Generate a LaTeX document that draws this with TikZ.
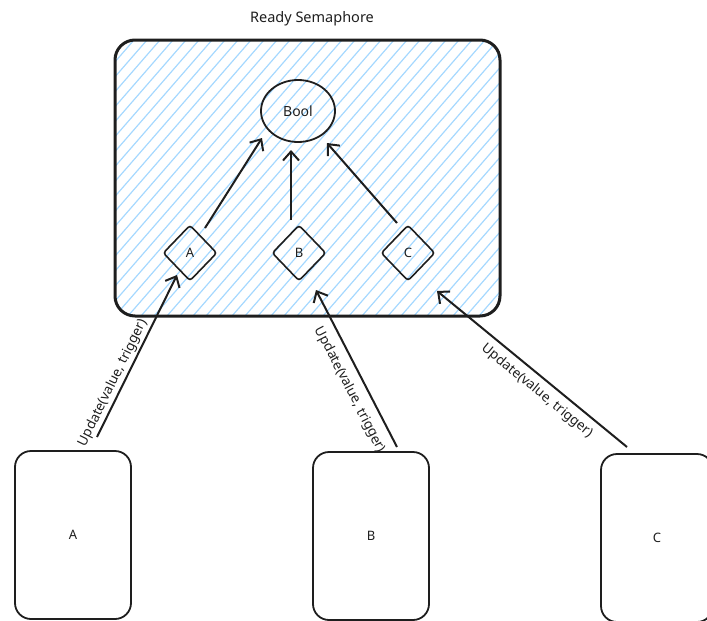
\documentclass[tikz,border=0pt]{standalone}
\usepackage{fontspec}
\setmainfont{Noto Sans}
\usetikzlibrary{shapes.geometric,arrows.meta,calc}
\definecolor{hatchblue}{HTML}{A5D8FF}
\definecolor{ink}{HTML}{1E1E1E}
\begin{document}
\begin{tikzpicture}[x=1pt,y=-1pt,
  frame/.style={draw=ink, line width=3pt, rounded corners=20pt, minimum width=385pt, minimum height=276pt, inner sep=0pt,
    path picture={\foreach \i in {-26,...,31}{\draw[hatchblue, line width=1.2pt] ($(path picture bounding box.south west)+(\i*13pt,0pt)$) -- ++(300pt,345pt);}}},
  diam/.style={diamond, draw=ink, line width=1.6pt, rounded corners=3pt, minimum width=54pt, minimum height=56pt, inner sep=0pt, font=\fontsize{13}{15}\selectfont, text=ink},
  client/.style={draw=ink, line width=1.8pt, rounded corners=16pt, minimum width=116pt, minimum height=168pt, inner sep=0pt, font=\fontsize{13}{15}\selectfont, text=ink},
  arr/.style={draw=ink, line width=2pt, -{Straight Barb[length=9pt,width=16pt,line width=2pt]}},
  lbl/.style={font=\fontsize{13.5}{15}\selectfont, inner sep=0pt, text=ink},
  ttl/.style={font=\fontsize{14.5}{17}\selectfont, text=ink}]
\useasboundingbox (0,0) rectangle (707,621);

\node[frame] (frame) at (307.5,178) {};
\node[ttl] (title) at (312,19) {Ready Semaphore};

\node[ellipse, draw=ink, line width=1.8pt, minimum width=74pt, minimum height=62pt, inner sep=0pt, font=\fontsize{14}{16}\selectfont, text=ink] (bool) at (298,111) {Bool};

\node[diam] (dA) at (190,253) {A};
\node[diam] (dB) at (299,253) {B};
\node[diam] (dC) at (408,253) {C};

\node[client] (cA) at (73,535) {A};
\node[client] (cB) at (371,536) {B};
\node[client, minimum width=112pt] (cC) at (657,538) {C};

\draw[arr] ([shift={(15,-25)}]dA.center) -- ([shift={(-36,27)}]bool.center);
\draw[arr] ([shift={(-8,-33)}]dB.center) -- ([shift={(-7,39)}]bool.center);
\draw[arr] ([shift={(-11,-30)}]dC.center) -- ([shift={(29,32)}]bool.center);

\draw[arr] ([shift={(24,-98)}]cA.center) -- ([shift={(-13,22)}]dA.center);
\draw[arr] ([shift={(26,-89)}]cB.center) -- ([shift={(17,37)}]dB.center);
\draw[arr] ([shift={(-30,-91)}]cC.center) -- ([shift={(29,38)}]dC.center);

\node[lbl, rotate=63.7] (lA) at (113,383) {Update(value, trigger)};
\node[lbl, rotate=-62.7] (lB) at (350,390) {Update(value, trigger)};
\node[lbl, rotate=-39.4] (lC) at (537,391) {Update(value, trigger)};
\end{tikzpicture}
\end{document}
